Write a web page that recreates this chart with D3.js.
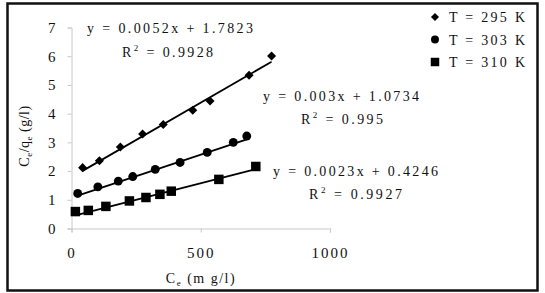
<!DOCTYPE html>
<html>
<head>
<meta charset="utf-8">
<script src="https://cdn.jsdelivr.net/npm/d3@7"></script>
<style>
  body { margin: 0; background: #fff; }
  svg text { font-family: "Liberation Serif", "Times New Roman", serif; fill: #111; }
</style>
</head>
<body>
<div id="chart"></div>
<script>
// Data
var x_295   =   [43, 108, 189, 275, 355, 469, 536, 687, 774];
var y_295   =   [2.12, 2.36, 2.84, 3.29, 3.62, 4.12, 4.44, 5.34, 6.01];
var x_303   =   [24, 102, 181, 237, 324, 420, 525, 626, 678];
var y_303   =   [1.22, 1.45, 1.65, 1.81, 2.06, 2.30, 2.65, 3.00, 3.22];
var x_310   =   [15, 65, 133, 224, 288, 342, 386, 570, 713];
var y_310   =   [0.59, 0.63, 0.77, 0.96, 1.08, 1.19, 1.30, 1.71, 2.16];
var series_names    =   ["T = 295 K", "T = 303 K", "T = 310 K"];
var slopes          =   [0.0052, 0.003, 0.0023];
var intercepts      =   [1.7823, 1.0734, 0.4246];
var eq_labels       =   ["y = 0.0052x + 1.7823", "y = 0.003x + 1.0734", "y = 0.0023x + 0.4246"];
var r2_labels       =   ["0.9928", "0.995", "0.9927"];
var x_ticks         =   [0, 500, 1000];
var y_ticks         =   [0, 1, 2, 3, 4, 5, 6, 7];

var chart_width     =   545;
var chart_height    =   293;
var serif           =   "'Liberation Serif', 'Times New Roman', serif";

var series = [
    { name: series_names[0], xs: x_295, ys: y_295, shape: d3.symbolDiamond2, size: 52 },
    { name: series_names[1], xs: x_303, ys: y_303, shape: d3.symbolCircle, size: 62 },
    { name: series_names[2], xs: x_310, ys: y_310, shape: d3.symbolSquare, size: 90 }
];

// Scales
var x_scale = d3.scaleLinear().domain([0, 1000]).range([71.5, 330]);
var y_scale = d3.scaleLinear().domain([0, 7]).range([228.5, 27.5]);

var svg = d3.select("#chart")
    .append("svg")
    .attr("width", chart_width)
    .attr("height", chart_height);

// frame
svg.append("rect")
    .attr("x", 7.5).attr("y", 3.5)
    .attr("width", 530).attr("height", 287)
    .attr("fill", "none")
    .attr("stroke", "#111")
    .attr("stroke-width", 2.5);

// Axes
var x_axis = d3.axisBottom(x_scale).tickValues(x_ticks).tickFormat(d3.format("d"))
    .tickSize(4).tickPadding(15);
var y_axis = d3.axisLeft(y_scale).tickValues(y_ticks).tickFormat(d3.format("d"))
    .tickSize(4).tickPadding(12);

var gx = svg.append("g")
    .attr("transform", "translate(0," + y_scale(0) + ")")
    .call(x_axis);
var gy = svg.append("g")
    .attr("transform", "translate(" + x_scale(0) + ",0)")
    .call(y_axis);

[gx, gy].forEach(function(g) {
    g.attr("font-family", serif);
    g.selectAll("path, line").attr("stroke", "#c8c8c8");
    g.selectAll("text")
        .style("font-size", "15px")
        .style("letter-spacing", "2px")
        .attr("fill", "#111");
});
gy.selectAll("text").attr("x", -14);

// Trend lines
series.forEach(function(s, i) {
    var x0 = d3.min(s.xs), x1 = d3.max(s.xs);
    svg.append("line")
        .attr("x1", x_scale(x0)).attr("y1", y_scale(slopes[i] * x0 + intercepts[i]))
        .attr("x2", x_scale(x1)).attr("y2", y_scale(slopes[i] * x1 + intercepts[i]))
        .attr("stroke", "#000")
        .attr("stroke-width", 1.8);
});

// Points
series.forEach(function(s) {
    svg.append("g").selectAll("path")
        .data(s.xs)
        .enter()
        .append("path")
        .attr("transform", function(d, j) {
            return "translate(" + x_scale(d) + "," + y_scale(s.ys[j]) + ")";
        })
        .attr("d", d3.symbol().type(s.shape).size(s.size))
        .attr("fill", "#000");
});

// Equation labels: x, y, width of equation; x, y, width of R2 line
var eq_pos = [[87, 33, 166, 122, 57, 91], [263, 101, 156, 301, 124, 82], [273, 176, 165, 309, 199, 93]];
eq_labels.forEach(function(t, i) {
    svg.append("text")
        .attr("x", eq_pos[i][0]).attr("y", eq_pos[i][1])
        .attr("textLength", eq_pos[i][2])
        .attr("lengthAdjust", "spacing")
        .style("font-size", "14px")
        .text(t);
    var r = svg.append("text")
        .attr("x", eq_pos[i][3]).attr("y", eq_pos[i][4])
        .attr("textLength", eq_pos[i][5])
        .attr("lengthAdjust", "spacing")
        .style("font-size", "14px");
    r.append("tspan").text("R");
    r.append("tspan").attr("dy", -6).style("font-size", "9px").text("2");
    r.append("tspan").attr("dy", 6).text(" = " + r2_labels[i]);
});

// Legend
var legend = svg.append("g");
series.forEach(function(s, i) {
    var ly = 17 + i * 22.5;
    legend.append("path")
        .attr("transform", "translate(435," + ly + ")")
        .attr("d", d3.symbol().type(s.shape).size(s.size * 0.8))
        .attr("fill", "#000");
    legend.append("text")
        .attr("x", 449).attr("y", ly + 5)
        .attr("textLength", 76)
        .attr("lengthAdjust", "spacing")
        .style("font-size", "14px")
        .text(s.name);
});

// Axis titles
var xt = svg.append("text")
    .attr("x", 201).attr("y", 283)
    .attr("text-anchor", "middle")
    .style("font-size", "14px")
    .style("letter-spacing", "1.5px");
xt.append("tspan").text("C");
xt.append("tspan").attr("baseline-shift", "-3").style("font-size", "9px").text("e");
xt.append("tspan").text(" (m g/l)");

var yt = svg.append("text")
    .attr("transform", "translate(29,136) rotate(-90)")
    .attr("text-anchor", "middle")
    .style("font-size", "14px")
    .style("letter-spacing", "0.5px");
yt.append("tspan").text("C");
yt.append("tspan").attr("baseline-shift", "-3").style("font-size", "9px").text("e");
yt.append("tspan").text("/q");
yt.append("tspan").attr("baseline-shift", "-3").style("font-size", "9px").text("e");
yt.append("tspan").text(" (g/l)");
</script>
</body>
</html>
